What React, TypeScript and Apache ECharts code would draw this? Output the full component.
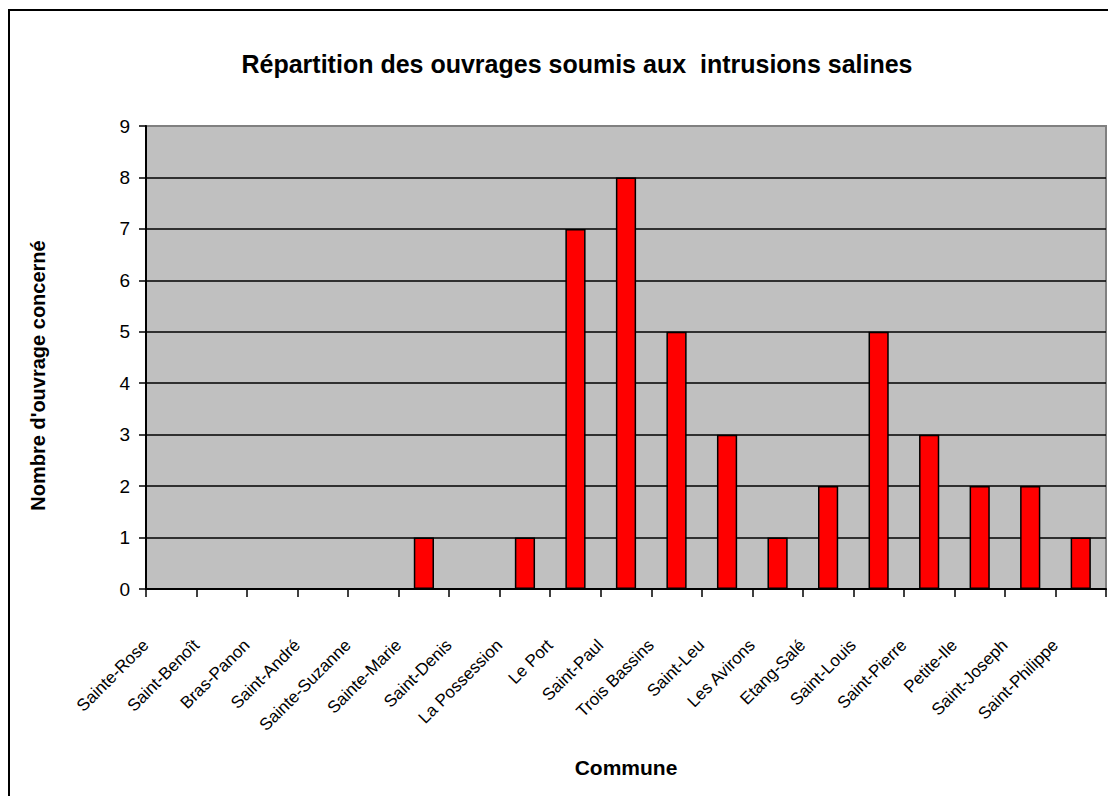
import React, { useEffect, useRef } from "react";
import * as echarts from "echarts";

// Communes de La Réunion, dans l'ordre du tour de l'île
const communes = [
  "Sainte-Rose",
  "Saint-Benoît",
  "Bras-Panon",
  "Saint-André",
  "Sainte-Suzanne",
  "Sainte-Marie",
  "Saint-Denis",
  "La Possession",
  "Le Port",
  "Saint-Paul",
  "Trois Bassins",
  "Saint-Leu",
  "Les Avirons",
  "Etang-Salé",
  "Saint-Louis",
  "Saint-Pierre",
  "Petite-Ile",
  "Saint-Joseph",
  "Saint-Philippe",
];

// Nombre d'ouvrages soumis aux intrusions salines par commune
const ouvrages = [0, 0, 0, 0, 0, 1, 0, 1, 7, 8, 5, 3, 1, 2, 5, 3, 2, 2, 1];

const chartTitle = "Répartition des ouvrages soumis aux  intrusions salines";
const yAxisTitle = "Nombre d'ouvrage concerné";
const xAxisTitle = "Commune";

const FONT = "'Liberation Sans', Arial, Helvetica, sans-serif";

export default function App() {
  const ref = useRef<HTMLDivElement>(null);

  useEffect(() => {
    if (!ref.current) return;
    const chart = echarts.init(ref.current, null, { renderer: "svg" });
    chart.setOption({
      animation: false,
      backgroundColor: "#ffffff",
      textStyle: { fontFamily: FONT },
      graphic: [
        {
          type: "rect",
          z: -10,
          shape: { x: 9, y: 10, width: 1110, height: 800 },
          style: { fill: "none", stroke: "#000000", lineWidth: 2 },
        },
        {
          type: "text",
          x: 577,
          y: 64,
          style: {
            text: chartTitle,
            align: "center",
            verticalAlign: "middle",
            fontFamily: FONT,
            fontSize: 25,
            fontWeight: "bold",
            fill: "#000000",
          },
        },
      ],
      grid: {
        left: 146,
        right: 2,
        top: 126,
        bottom: 207,
        show: true,
        backgroundColor: "#C0C0C0",
        borderColor: "#808080",
        borderWidth: 2,
      },
      xAxis: {
        type: "category",
        data: communes,
        boundaryGap: true,
        name: xAxisTitle,
        nameLocation: "middle",
        nameGap: 168,
        nameTextStyle: {
          fontFamily: FONT,
          fontSize: 21,
          fontWeight: "bold",
          color: "#000000",
        },
        axisLine: { show: true, lineStyle: { color: "#000000", width: 2 } },
        axisTick: {
          show: true,
          length: 8,
          lineStyle: { color: "#000000", width: 1.5 },
        },
        axisLabel: {
          interval: 0,
          rotate: 45,
          margin: 28,
          padding: [0, 36, 33, 0],
          fontFamily: FONT,
          fontSize: 17,
          color: "#000000",
        },
        splitLine: { show: false },
      },
      yAxis: {
        type: "value",
        min: 0,
        max: 9,
        interval: 1,
        name: yAxisTitle,
        nameLocation: "middle",
        nameRotate: 90,
        nameGap: 98,
        nameTextStyle: {
          fontFamily: FONT,
          fontSize: 20,
          fontWeight: "bold",
          color: "#000000",
          padding: [0, 36, 0, 0],
        },
        axisLine: { show: true, lineStyle: { color: "#000000", width: 2 } },
        axisTick: {
          show: true,
          length: 7,
          lineStyle: { color: "#000000", width: 1.5 },
        },
        axisLabel: {
          margin: 16,
          fontFamily: FONT,
          fontSize: 19,
          color: "#000000",
        },
        splitLine: {
          show: true,
          showMaxLine: false,
          lineStyle: { color: "#000000", width: 1.5 },
        },
      },
      series: [
        {
          type: "bar",
          data: ouvrages,
          barWidth: "40%",
          itemStyle: {
            color: "#FF0000",
            borderColor: "#000000",
            borderWidth: 1.5,
          },
        },
      ],
    });
    return () => chart.dispose();
  }, []);

  return (
    <div
      ref={ref}
      style={{ position: "fixed", left: 0, top: 0, width: 1108, height: 796 }}
    />
  );
}
